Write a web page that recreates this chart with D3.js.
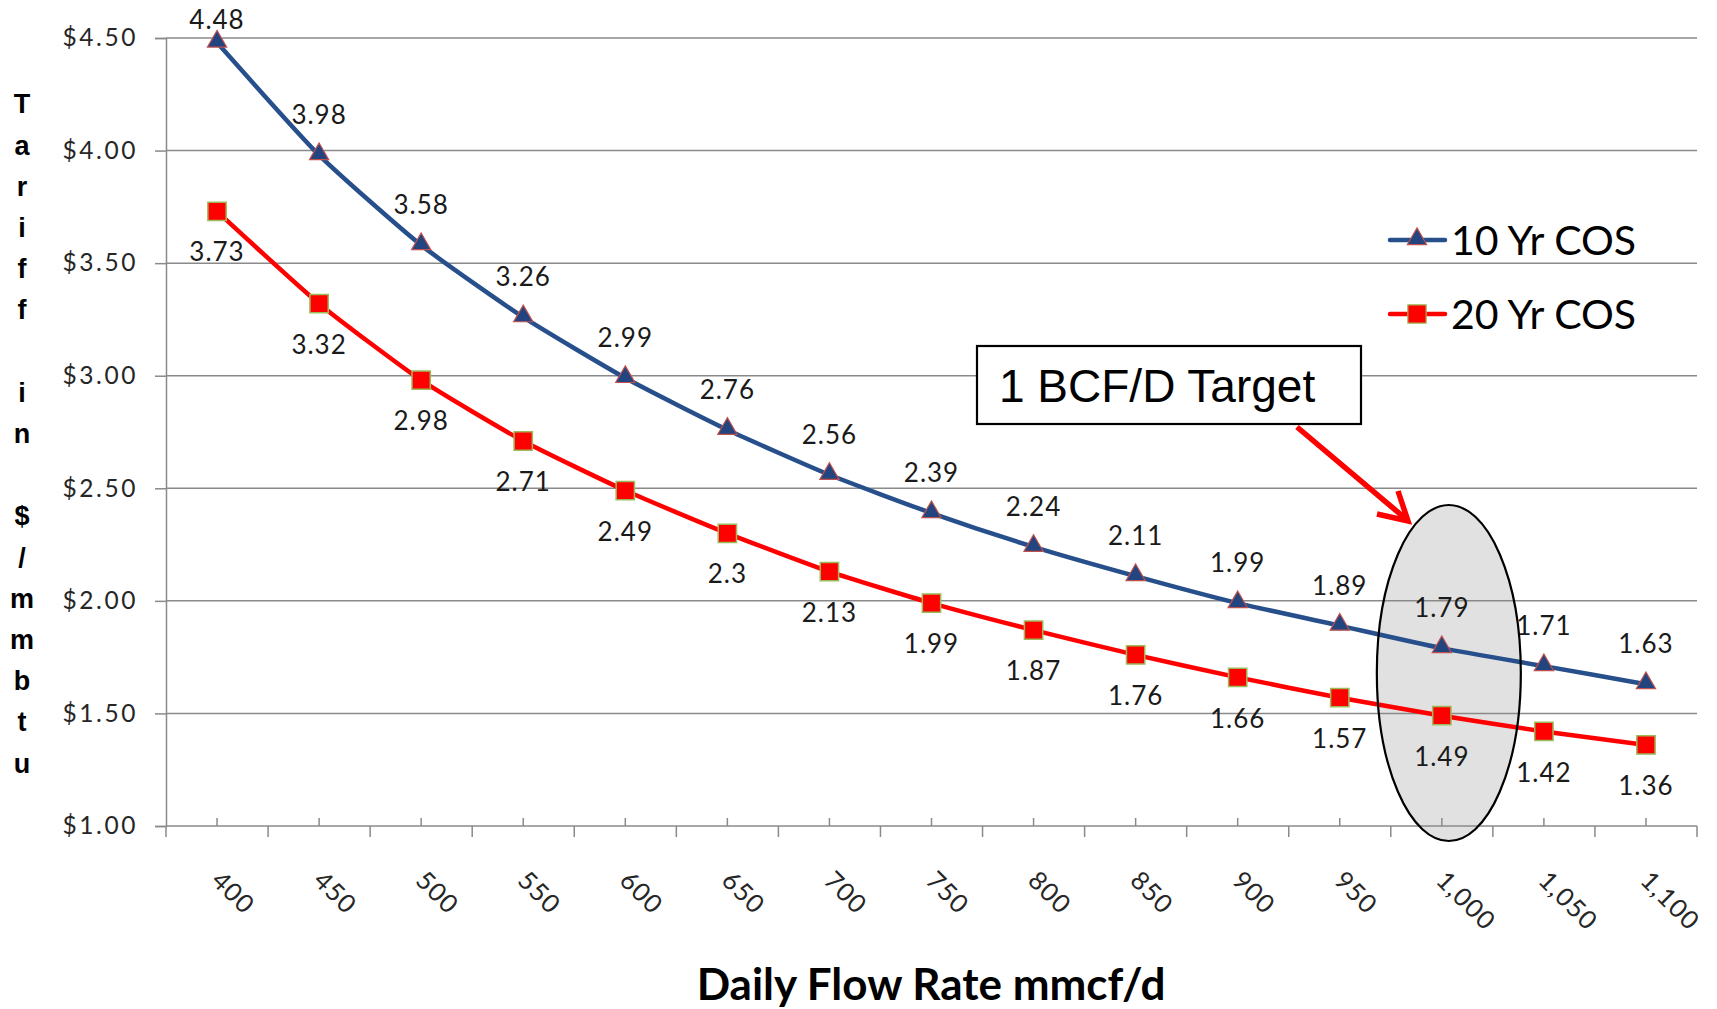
<!DOCTYPE html>
<html>
<head>
<meta charset="utf-8">
<script src="https://cdn.jsdelivr.net/npm/d3@7/dist/d3.min.js"></script>
<style>
  html, body { margin: 0; padding: 0; background: #fff; }
  svg { display: block; }
</style>
</head>
<body>
<svg id="chart" width="1717" height="1009"></svg>
<script>
// ---- DATA ----
const flowRates = [400, 450, 500, 550, 600, 650, 700, 750, 800, 850, 900, 950, 1000, 1050, 1100];
const tenYearCOS = [4.48, 3.98, 3.58, 3.26, 2.99, 2.76, 2.56, 2.39, 2.24, 2.11, 1.99, 1.89, 1.79, 1.71, 1.63];
const twentyYearCOS = [3.73, 3.32, 2.98, 2.71, 2.49, 2.3, 2.13, 1.99, 1.87, 1.76, 1.66, 1.57, 1.49, 1.42, 1.36];
const yTicks = [1.0, 1.5, 2.0, 2.5, 3.0, 3.5, 4.0, 4.5];
const seriesNames = ["10 Yr COS", "20 Yr COS"];
const xTitle = "Daily Flow Rate mmcf/d";
const yTitle = "Tariff in $/mmbtu";
const targetLabel = "1 BCF/D Target";
const targetRate = 1000;

(function () {
// ---- LAYOUT ----
const svg = d3.select("#chart");
const pL = 166, pR = 1697, pT = 38, pB = 826;

const x = d3.scaleBand().domain(flowRates).range([pL, pR]).padding(0);
const cx = d => x(d) + x.bandwidth() / 2;
const y = d3.scaleLinear().domain([1.0, 4.5]).range([pB, pT]);

const BLUE = "#274F8B", BLUE_MK = "#22447F", RED = "#FF0000";
const calibri = "Lato, 'Open Sans', sans-serif";
const arial = "'Liberation Sans', Arimo, Arial, sans-serif";

// ---- Target ellipse fill (behind) ----
const ell = { cx: cx(targetRate) + 7, cy: 673, rx: 72, ry: 168 };
svg.append("ellipse")
  .attr("cx", ell.cx).attr("cy", ell.cy).attr("rx", ell.rx).attr("ry", ell.ry)
  .attr("fill", "#E1E1E1");

// ---- Gridlines ----
svg.append("g").selectAll("line").data(yTicks.slice(1)).join("line")
  .attr("x1", pL).attr("x2", pR)
  .attr("y1", d => y(d)).attr("y2", d => y(d))
  .attr("stroke", "#8a8a8a").attr("stroke-width", 1.5);

// ---- Y axis ----
const yAxis = d3.axisLeft(y).tickValues(yTicks).tickSize(11).tickFormat(d3.format("$.2f"));
const gy = svg.append("g").attr("transform", `translate(${pL},0)`).call(yAxis);
gy.select(".domain").attr("stroke", "#8a8a8a").attr("stroke-width", 1.5);
gy.selectAll(".tick line").attr("stroke", "#8a8a8a").attr("stroke-width", 1.5);
gy.selectAll(".tick text")
  .attr("x", -28)
  .attr("font-family", calibri).attr("font-size", 24.5)
  .attr("letter-spacing", 2.6).attr("fill", "#262626");

// ---- X axis ----
const gx = svg.append("g").attr("transform", `translate(0,${pB})`);
gx.append("line").attr("x1", pL).attr("x2", pR).attr("y1", 0).attr("y2", 0)
  .attr("stroke", "#8a8a8a").attr("stroke-width", 1.5);
const bounds = flowRates.map(d => x(d)).concat([pR]);
gx.selectAll("line.bt").data(bounds).join("line").attr("class", "bt")
  .attr("x1", d => d).attr("x2", d => d).attr("y1", 0).attr("y2", 11)
  .attr("stroke", "#8a8a8a").attr("stroke-width", 1.5);
gx.selectAll("line.ct").data(flowRates).join("line").attr("class", "ct")
  .attr("x1", d => cx(d)).attr("x2", d => cx(d)).attr("y1", 0).attr("y2", -8)
  .attr("stroke", "#8a8a8a").attr("stroke-width", 1.5);
gx.selectAll("text").data(flowRates).join("text")
  .attr("transform", d => `translate(${cx(d) - 7},56) rotate(45)`)
  .attr("font-family", calibri).attr("font-size", 25.5).attr("letter-spacing", 1.2)
  .attr("fill", "#262626")
  .text(d => d3.format(",")(d));

// ---- Series ----
const line = d3.line().x((d, i) => cx(flowRates[i])).y(d => y(d)).curve(d3.curveCardinal.tension(0.45));
svg.append("path").datum(tenYearCOS).attr("d", line)
  .attr("fill", "none").attr("stroke", BLUE).attr("stroke-width", 4.5).attr("stroke-linejoin", "round");
svg.append("path").datum(twentyYearCOS).attr("d", line)
  .attr("fill", "none").attr("stroke", RED).attr("stroke-width", 4.5).attr("stroke-linejoin", "round");

const tri = d3.symbol().type(d3.symbolTriangle).size(160);
const sq = d3.symbol().type(d3.symbolSquare).size(335);

svg.append("g").selectAll("path").data(tenYearCOS).join("path")
  .attr("d", tri)
  .attr("transform", (d, i) => `translate(${cx(flowRates[i])},${y(d) - 1})`)
  .attr("fill", BLUE_MK).attr("stroke", "#C0504D").attr("stroke-width", 1.2);
svg.append("g").selectAll("path").data(twentyYearCOS).join("path")
  .attr("d", sq)
  .attr("transform", (d, i) => `translate(${cx(flowRates[i])},${y(d)})`)
  .attr("fill", RED).attr("stroke", "#9BBB59").attr("stroke-width", 1.5);

// ---- Data labels ----
svg.append("g").selectAll("text").data(tenYearCOS).join("text")
  .attr("x", (d, i) => cx(flowRates[i]))
  .attr("y", d => Math.max(y(d) - 40, 20))
  .attr("dy", "0.35em").attr("text-anchor", "middle")
  .attr("font-family", calibri).attr("font-size", 26).attr("letter-spacing", 1)
  .attr("fill", "#1a1a1a").text(d => d);
svg.append("g").selectAll("text").data(twentyYearCOS).join("text")
  .attr("x", (d, i) => cx(flowRates[i]))
  .attr("y", d => y(d) + 41)
  .attr("dy", "0.35em").attr("text-anchor", "middle")
  .attr("font-family", calibri).attr("font-size", 26).attr("letter-spacing", 1)
  .attr("fill", "#1a1a1a").text(d => d);

// ---- Ellipse outline (on top) ----
svg.append("ellipse")
  .attr("cx", ell.cx).attr("cy", ell.cy).attr("rx", ell.rx).attr("ry", ell.ry)
  .attr("fill", "none").attr("stroke", "#000").attr("stroke-width", 2.2);

// ---- Legend ----
const leg = svg.append("g");
const legY = [240, 314];
[0, 1].forEach(i => {
  leg.append("line").attr("x1", 1390).attr("x2", 1445).attr("y1", legY[i]).attr("y2", legY[i])
    .attr("stroke", i === 0 ? BLUE : RED).attr("stroke-width", 4.5).attr("stroke-linecap", "round");
  leg.append("path").attr("d", i === 0 ? tri : sq)
    .attr("transform", `translate(1417,${legY[i] - (i === 0 ? 1 : 0)})`)
    .attr("fill", i === 0 ? BLUE_MK : RED)
    .attr("stroke", i === 0 ? "#C0504D" : "#9BBB59").attr("stroke-width", 1.2);
  leg.append("text").attr("x", 1451).attr("y", legY[i]).attr("dy", "0.36em")
    .attr("font-family", calibri).attr("font-size", 41).attr("fill", "#000")
    .text(seriesNames[i]);
});

// ---- Target box + arrow ----
svg.append("rect").attr("x", 977).attr("y", 346).attr("width", 384).attr("height", 78)
  .attr("fill", "#fff").attr("stroke", "#000").attr("stroke-width", 2.2);
svg.append("text").attr("x", 999).attr("y", 402)
  .attr("font-family", arial).attr("font-size", 46)
  .attr("fill", "#000").text(targetLabel);
svg.append("path")
  .attr("d", "M1297,427 L1406,519 M1377,514 L1408,521 L1398,491")
  .attr("fill", "none").attr("stroke", RED).attr("stroke-width", 5.5)
  .attr("stroke-linecap", "butt").attr("stroke-linejoin", "miter");

// ---- Axis titles ----
svg.append("text").attr("x", 931).attr("y", 1000).attr("text-anchor", "middle")
  .attr("font-family", calibri).attr("font-weight", "bold").attr("font-size", 44)
  .attr("fill", "#000").text(xTitle);

const yt = svg.append("text")
  .attr("font-family", arial).attr("font-weight", "bold")
  .attr("font-size", 27).attr("text-anchor", "middle").attr("fill", "#000");
yTitle.split("").forEach((c, i) => {
  yt.append("tspan").attr("x", 22).attr("y", 104 + i * 41.2).attr("dy", "0.35em")
    .text(c === " " ? "\u00A0" : c);
});
})();
</script>
</body>
</html>
